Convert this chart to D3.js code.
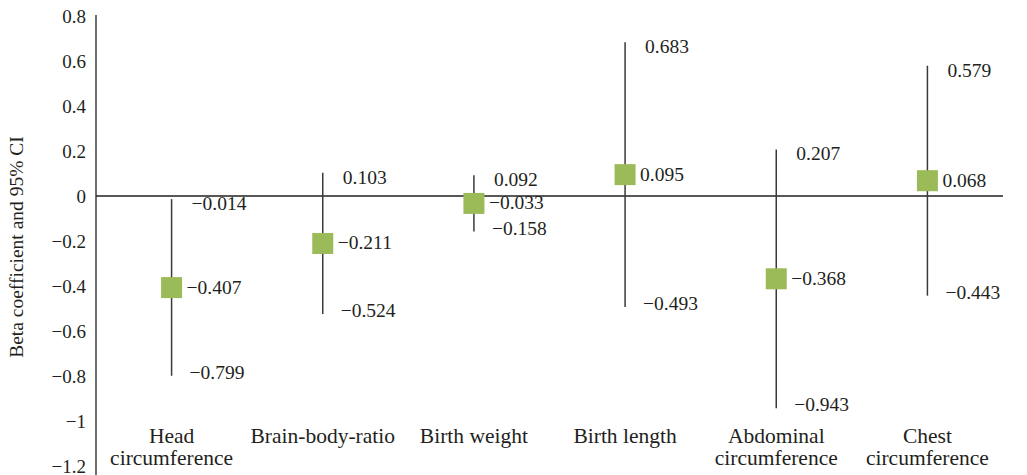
<!DOCTYPE html>
<html>
<head>
<meta charset="utf-8">
<script src="https://cdn.jsdelivr.net/npm/d3@7"></script>
<style>
  html, body { margin: 0; padding: 0; background: #fff; }
  svg { display: block; }
  svg text { font-family: "Liberation Serif", "Times New Roman", "DejaVu Serif", serif; }
</style>
</head>
<body>
<div id="chart"></div>
<script>
// Beta coefficients with 95% CI, one row per birth measure
const categories = [
  ["Head", "circumference"],
  ["Brain-body-ratio"],
  ["Birth weight"],
  ["Birth length"],
  ["Abdominal", "circumference"],
  ["Chest", "circumference"],
];
const beta = [-0.407, -0.211, -0.033, 0.095, -0.368, 0.068];
const upper = [-0.014, 0.103, 0.092, 0.683, 0.207, 0.579];
const lower = [-0.799, -0.524, -0.158, -0.493, -0.943, -0.443];
const yTicks = [0.8, 0.6, 0.4, 0.2, 0, -0.2, -0.4, -0.6, -0.8, -1, -1.2];

const width = 1027, height = 475;
const m = { top: 16, right: 24, bottom: 9, left: 96 };
const INK = "#231f20";
const GREEN = "#9bbb59";

const fmt = (v) => (v < 0 ? "\u2212" : "") + String(Math.abs(v));

const svg = d3.select("#chart").append("svg")
  .attr("width", width).attr("height", height);

const x = d3.scaleBand()
  .domain(d3.range(categories.length))
  .range([m.left, width - m.right]);
const y = d3.scaleLinear().domain([-1.2, 0.8]).range([height - m.bottom, m.top]);
const cx = (i) => x(i) + x.bandwidth() / 2;

// y axis: line plus labels, no tick marks
svg.append("g")
  .attr("transform", `translate(${m.left},0)`)
  .call(d3.axisLeft(y).tickValues(yTicks).tickFormat((d) => fmt(+d.toFixed(1))).tickSize(0).tickPadding(10))
  .call((g) => g.attr("font-family", null).attr("font-size", null))
  .call((g) => g.select(".domain").attr("stroke", INK).attr("stroke-width", 1.3)
    .attr("d", `M0,${y(0.8) - 1}V${height}`))
  .selectAll("text").attr("fill", INK).style("font-size", "19px");

// zero line
svg.append("line")
  .attr("x1", m.left).attr("x2", width - m.right)
  .attr("y1", y(0)).attr("y2", y(0))
  .attr("stroke", INK).attr("stroke-width", 1.3);

svg.append("text")
  .attr("transform", `translate(23,${(y(0.8) + y(-1.2)) / 2 + 6}) rotate(-90)`)
  .attr("text-anchor", "middle")
  .attr("fill", INK).style("font-size", "19.5px")
  .text("Beta coefficient and 95% CI");

// CI whiskers
svg.append("g").selectAll("line").data(beta).join("line")
  .attr("x1", (_, i) => cx(i)).attr("x2", (_, i) => cx(i))
  .attr("y1", (_, i) => y(upper[i])).attr("y2", (_, i) => y(lower[i]))
  .attr("stroke", "#3a3a3a").attr("stroke-width", 1.5);

// point estimates
const sq = 21;
svg.append("g").selectAll("rect").data(beta).join("rect")
  .attr("x", (_, i) => cx(i) - sq / 2)
  .attr("y", (d) => y(d) - sq / 2)
  .attr("width", sq).attr("height", sq)
  .attr("fill", GREEN);

// value labels: bound labels sit a little inside the whisker ends,
// and get nudged apart when they crowd each other
const minGap = 22;
beta.forEach((b, i) => {
  const labels = [
    { v: upper[i], dx: 20, off: 5 },
    { v: b, dx: 15, off: 0 },
    { v: lower[i], dx: 18, off: -3 },
  ].map((l) => ({ ...l, py: y(l.v) + l.off }));
  for (let k = 1; k < labels.length; k++) {
    if (labels[k].py - labels[k - 1].py < minGap) {
      const mid = (labels[k].py + labels[k - 1].py) / 2;
      labels[k - 1].py = Math.min(labels[k - 1].py, mid - minGap / 2);
      labels[k].py = Math.max(labels[k].py, mid + minGap / 2);
    }
  }
  labels.forEach((l) => {
    svg.append("text")
      .attr("x", cx(i) + l.dx).attr("y", l.py + 6)
      .attr("fill", INK).style("font-size", "19.5px")
      .text(fmt(l.v));
  });
});

// category labels
categories.forEach((lines, i) => {
  const t = svg.append("text")
    .attr("x", cx(i)).attr("y", 443)
    .attr("text-anchor", "middle")
    .attr("fill", INK).style("font-size", "21.5px");
  lines.forEach((s, k) => {
    t.append("tspan").attr("x", cx(i)).attr("dy", k ? 22 : 0).text(s);
  });
});
</script>
</body>
</html>
